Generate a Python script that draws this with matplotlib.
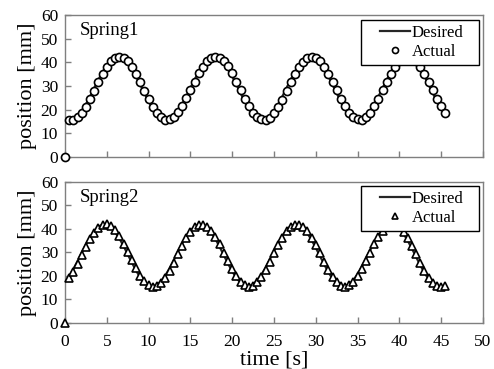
import numpy as np
import matplotlib
matplotlib.use("Agg")
import matplotlib.pyplot as plt
from matplotlib.legend_handler import HandlerLine2D

plt.rcParams['font.family'] = ['Liberation Serif', 'DejaVu Serif']

# sample times [s]
time_s = [0.0, 0.5, 1.0, 1.5, 2.0, 2.5, 3.0, 3.5, 4.0, 4.5, 5.0, 5.5, 6.0, 6.5, 7.0, 7.5,
          8.0, 8.5, 9.0, 9.5, 10.0, 10.5, 11.0, 11.5, 12.0, 12.5, 13.0, 13.5, 14.0, 14.5,
          15.0, 15.5, 16.0, 16.5, 17.0, 17.5, 18.0, 18.5, 19.0, 19.5, 20.0, 20.5, 21.0,
          21.5, 22.0, 22.5, 23.0, 23.5, 24.0, 24.5, 25.0, 25.5, 26.0, 26.5, 27.0, 27.5,
          28.0, 28.5, 29.0, 29.5, 30.0, 30.5, 31.0, 31.5, 32.0, 32.5, 33.0, 33.5, 34.0,
          34.5, 35.0, 35.5, 36.0, 36.5, 37.0, 37.5, 38.0, 38.5, 39.0, 39.5, 40.0, 40.5,
          41.0, 41.5, 42.0, 42.5, 43.0, 43.5, 44.0, 44.5, 45.0, 45.5]

# Spring1 position [mm]
spring1_desired = [16.5,
                   15.8, 16.1, 17.4, 19.5, 22.3, 25.6, 29.2, 32.7, 36.0, 38.8, 40.8, 42.0,
                   42.2, 41.4, 39.7, 37.2, 34.1, 30.6, 27.0, 23.5, 20.5, 18.1, 16.5,
                   15.8, 16.1, 17.4, 19.5, 22.3, 25.6, 29.2, 32.7, 36.0, 38.8, 40.8, 42.0,
                   42.2, 41.4, 39.7, 37.2, 34.1, 30.6, 27.0, 23.5, 20.5, 18.1, 16.5,
                   15.8, 16.1, 17.4, 19.5, 22.3, 25.6, 29.2, 32.7, 36.0, 38.8, 40.8, 42.0,
                   42.2, 41.4, 39.7, 37.2, 34.1, 30.6, 27.0, 23.5, 20.5, 18.1, 16.5,
                   15.8, 16.1, 17.4, 19.5, 22.3, 25.6, 29.2, 32.7, 36.0, 38.8, 40.8, 42.0,
                   42.2, 41.4, 39.7, 37.2, 34.1, 30.6, 27.0, 23.5, 20.5, 18.1]
spring1_actual = [0.0,
                  15.8, 15.8, 16.8, 18.7, 21.3, 24.5, 28.1, 31.7, 35.1, 38.1, 40.4, 41.8,
                  42.3, 41.8, 40.4, 38.1, 35.1, 31.7, 28.1, 24.5, 21.3, 18.7, 16.8,
                  15.6, 16.0, 17.0, 18.9, 21.6, 24.8, 28.3, 31.9, 35.3, 38.2, 40.5, 41.9,
                  42.4, 42.0, 40.6, 38.3, 35.3, 31.9, 28.3, 24.7, 21.4, 18.8, 16.9,
                  15.9, 15.7, 16.6, 18.5, 21.1, 24.3, 27.9, 31.6, 35.0, 38.0, 40.3, 41.8,
                  42.3, 41.9, 40.5, 38.2, 35.2, 31.8, 28.2, 24.6, 21.4, 18.8, 16.9,
                  15.9, 15.8, 16.9, 18.8, 21.4, 24.6, 28.2, 31.8, 35.2, 38.2, 40.5, 41.9,
                  42.4, 41.9, 40.5, 38.2, 35.2, 31.8, 28.2, 24.6, 21.4, 18.7]

# Spring2 position [mm]
spring2_desired = [17.6, 19.9, 22.9, 26.3, 29.9, 33.4, 36.5, 39.1, 41.0, 41.9, 41.8, 40.7,
                   38.6, 36.0, 32.8, 29.2, 25.7, 22.3, 19.4, 17.3, 16.0, 15.6, 16.3, 17.8,
                   20.2, 23.2, 26.7, 30.3, 33.8, 36.8, 39.4, 41.0, 41.8, 41.6, 40.5, 38.4,
                   35.7, 32.4, 28.8, 25.3, 22.0, 19.2, 17.1, 15.9, 15.6, 16.4, 18.1, 20.5,
                   23.6, 27.1, 30.7, 34.1, 37.1, 39.6, 41.2, 41.9, 41.6, 40.3, 38.2, 35.3,
                   32.0, 28.5, 25.0, 21.6, 18.9, 17.0, 15.8, 15.7, 16.5, 18.2, 20.8, 23.9,
                   27.4, 31.0, 34.4, 37.4, 39.7, 41.3, 41.9, 41.5, 40.1, 38.0, 35.0, 31.7,
                   28.1, 24.6, 21.3, 18.7, 16.8, 15.8, 15.6, 15.8]
spring2_actual = [0.0, 19.1, 21.9, 25.2, 28.8, 32.4, 35.7, 38.5, 40.6, 41.8, 42.0, 41.2,
                  39.4, 36.9, 33.8, 30.3, 26.7, 23.2, 20.1, 17.7, 16.2, 15.5, 15.9, 17.2,
                  19.3, 22.2, 25.6, 29.2, 32.8, 36.0, 38.8, 40.7, 41.8, 41.9, 41.0, 39.2,
                  36.6, 33.5, 29.9, 26.3, 22.9, 19.9, 17.5, 16.0, 15.5, 15.9, 17.4, 19.6,
                  22.5, 26.0, 29.6, 33.1, 36.3, 39.0, 40.9, 41.9, 41.9, 40.9, 39.0, 36.3,
                  33.1, 29.6, 26.0, 22.5, 19.6, 17.4, 15.9, 15.5, 16.0, 17.5, 19.9, 22.9,
                  26.3, 29.9, 33.5, 36.6, 39.2, 41.0, 41.9, 41.8, 40.7, 38.8, 36.0, 32.8,
                  29.2, 25.6, 22.2, 19.3, 17.2, 15.9, 15.5, 15.7]

x_ticks = [0, 5, 10, 15, 20, 25, 30, 35, 40, 45, 50]
y_ticks = [0, 10, 20, 30, 40, 50, 60]

frame_col = '#7f7f7f'
line_col = '#262626'


class IndentedLineHandler(HandlerLine2D):
    """Legend handle whose line/marker sit in the right part of the handle box."""
    indent = 0.32

    def get_xdata(self, legend, xdescent, ydescent, width, height, fontsize):
        x0 = -xdescent + width * self.indent
        x1 = -xdescent + width
        return np.array([x0, x1]), np.array([(x0 + x1) / 2.0])


fig = plt.figure(figsize=(4.94, 3.69), dpi=100)
ax1 = fig.add_axes([0.1316, 0.5745, 0.8461, 0.3848])
ax2 = fig.add_axes([0.1316, 0.1247, 0.8461, 0.3821])

panels = [
    (ax1, 'Spring1', spring1_desired, spring1_actual, 'o', 5.8, 0.965),
    (ax2, 'Spring2', spring2_desired, spring2_actual, '^', 6.3, 0.975),
]

for ax, name, desired, actual, marker, msize, leg_top in panels:
    h_line, = ax.plot(time_s, desired, color=line_col, lw=1.6, zorder=2)
    h_mark, = ax.plot(time_s, actual, linestyle='none', marker=marker, ms=msize,
                      mfc='white', mec='black', mew=1.2, zorder=3, clip_on=False)
    ax.set_xlim(0, 50)
    ax.set_ylim(0, 60)
    ax.set_xticks(x_ticks)
    ax.set_yticks(y_ticks)
    for s in ax.spines.values():
        s.set_color(frame_col)
        s.set_linewidth(1.0)
    ax.tick_params(direction='in', length=4, width=1.0, color=frame_col,
                   labelsize=12.5, pad=5)
    ax.set_ylabel('position [mm]', fontsize=16, labelpad=3)
    ax.text(0.035, 0.95, name, transform=ax.transAxes, fontsize=13.5,
            ha='left', va='top')
    leg = ax.legend([h_line, h_mark], ['Desired', 'Actual'],
                    loc='upper left', bbox_to_anchor=(0.708, leg_top - 0.32, 0.282, 0.32),
                    mode='expand', borderaxespad=0.0,
                    fontsize=12, frameon=True, fancybox=False, edgecolor='black',
                    framealpha=1, handlelength=2.65, handletextpad=0.1,
                    borderpad=0.3, labelspacing=0.2, markerscale=0.75,
                    handler_map={h_line: IndentedLineHandler(),
                                 h_mark: IndentedLineHandler()})
    leg.get_frame().set_linewidth(1.0)

ax1.tick_params(labelbottom=False)
ax2.tick_params(axis='x', pad=8)
ax2.set_xlabel('time [s]', fontsize=16, labelpad=0)

fig.savefig('out.png', dpi=100)
